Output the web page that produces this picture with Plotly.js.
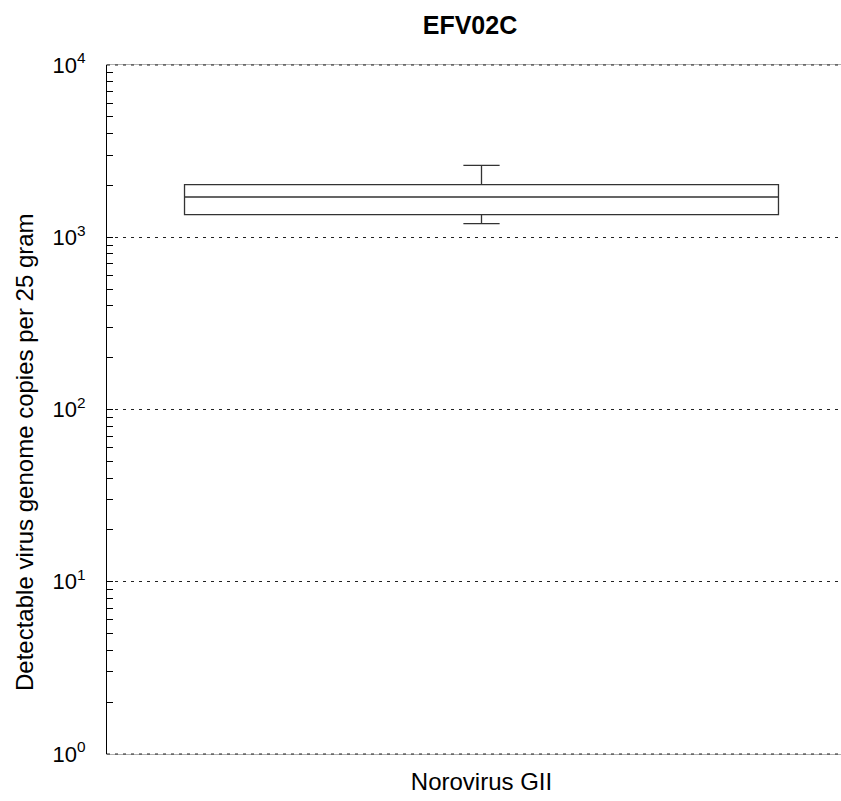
<!DOCTYPE html>
<html><head><meta charset="utf-8">
<script src="https://cdn.plot.ly/plotly-3.0.1.min.js"></script>
<style>html,body{margin:0;padding:0;overflow:hidden;background:#fff}</style>
</head><body><div id="chart"></div>
<script>
const chartTitle = "EFV02C";
const categories = ["Norovirus GII"];
const lowerFence = [1200];
const q1 = [1352];
const median = [1713];
const q3 = [2020];
const upperFence = [2612];
const yTickVals = [1, 10, 100, 1000, 10000];
const yTickText = ["10<sup>0</sup>", "10<sup>1</sup>", "10<sup>2</sup>", "10<sup>3</sup>", "10<sup>4</sup>"];
const yLabel = "Detectable virus genome copies per 25 gram";

const W = 856, H = 801, L = 107, T = 65, B = 47;
const PW = W - L, PH = H - T - B;

const trace = {
  type: "box",
  x: categories,
  q1: q1, median: median, q3: q3,
  lowerfence: lowerFence, upperfence: upperFence,
  width: 0.793,
  fillcolor: "rgba(255,255,255,0)",
  line: {color: "#333333", width: 1.3},
  whiskerwidth: 0.061,
  boxpoints: false,
  hoverinfo: "skip"
};

const edgeLine = (yp) => ({
  type: "line", xref: "paper", yref: "paper", x0: 0, x1: 1, y0: yp, y1: yp,
  line: {color: "#222", width: 1, dash: "3px,5px"}, layer: "above"
});

const layout = {
  width: W, height: H,
  margin: {l: L, r: 0, t: T, b: B},
  paper_bgcolor: "#fff", plot_bgcolor: "#fff",
  font: {family: "Liberation Sans, Arial, sans-serif", color: "#000"},
  showlegend: false,
  title: {text: "<b>" + chartTitle + "</b>", font: {size: 25}, x: 470/W, xanchor: "center", y: 1 - 25/H, yanchor: "middle"},
  xaxis: {
    type: "category", range: [-0.5, 0.5],
    showline: true, mirror: true, linecolor: "#b0b0b0", linewidth: 1,
    showgrid: false, zeroline: false,
    ticks: "", tickfont: {size: 24}, ticklabelstandoff: 6
  },
  yaxis: {
    type: "log", range: [0, 4],
    showline: true, linecolor: "#000", linewidth: 1,
    showgrid: true, gridcolor: "#222", griddash: "3px,5px", gridwidth: 1,
    zeroline: false,
    tickvals: yTickVals, ticktext: yTickText,
    ticks: "inside", ticklen: 6, tickcolor: "#000",
    tickfont: {size: 22}, ticklabelstandoff: 16,
    minor: {ticks: "inside", ticklen: 6, tickcolor: "#000", dtick: "D1", showgrid: false}
  },
  shapes: [edgeLine(0), edgeLine(1)],
  annotations: [{
    text: yLabel, textangle: -90, showarrow: false,
    xref: "paper", yref: "paper",
    x: (24 - L) / PW, xanchor: "center",
    y: 1 - (452 - T) / PH, yanchor: "middle",
    font: {size: 24}
  }]
};

Plotly.newPlot("chart", [trace], layout, {displayModeBar: false, staticPlot: true});
</script></body></html>
